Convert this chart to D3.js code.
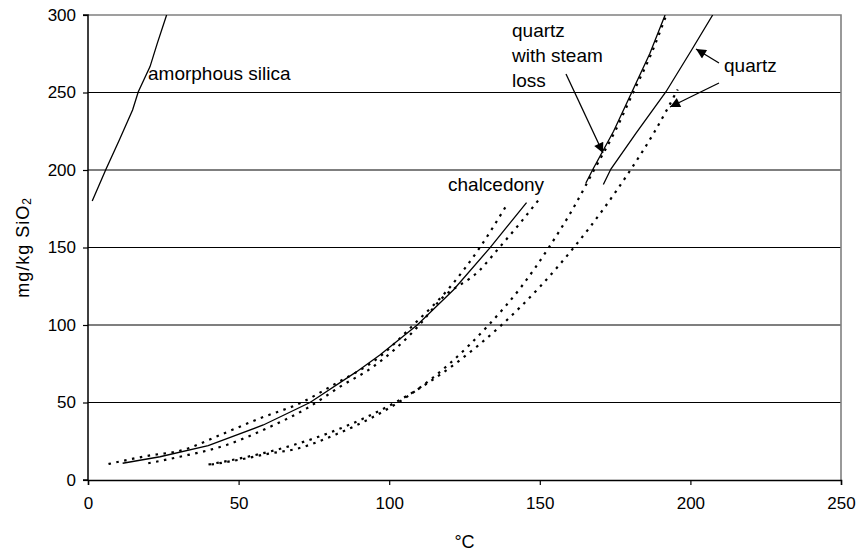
<!DOCTYPE html>
<html>
<head>
<meta charset="utf-8">
<script src="https://cdn.jsdelivr.net/npm/d3@7"></script>
<style>
  html, body { margin: 0; padding: 0; background: #fff; }
  svg text { font-family: "Liberation Sans", Arial, sans-serif; fill: #000; }
</style>
</head>
<body>
<svg id="chart" width="857" height="552"></svg>
<script>
// Silica solubility (mg/kg SiO2) against temperature (°C)
const xTicks = [0, 50, 100, 150, 200, 250];
const yTicks = [0, 50, 100, 150, 200, 250, 300];
const gridValues = [50, 100, 150, 200, 250];

// amorphous silica (solid)
const amorphousT = [1.4, 6.0, 10.4, 14.8, 16.7, 20.6, 23.0, 26.1];
const amorphousS = [180, 200.6, 219.4, 238.7, 250.5, 266.7, 281.7, 300];

// chalcedony (solid)
const chalcedonyT = [11.5, 23.9, 39.9, 58.2, 73.7, 89.2, 96.9, 109.3, 121.3, 133.5, 145.6];
const chalcedonyS = [10.8, 15, 22.2, 35.5, 50, 69.9, 80.6, 100, 122.6, 149.9, 179];

// chalcedony bounds (dotted), upper and lower
const chalcUpperT = [6.8, 19.5, 31.6, 43.8, 57.1, 70.9, 81.4, 96.9, 108, 120, 130.1, 139];
const chalcUpperS = [10.3, 15.5, 19.4, 29, 39.8, 50, 61.3, 79.6, 100, 124, 150, 177.4];
const chalcLowerT = [20, 30.5, 46, 59.3, 72.6, 83.7, 94.7, 110, 116.9, 130.1, 136.8, 143.4, 150];
const chalcLowerS = [10.8, 15, 22.6, 33.3, 46.2, 60.2, 73.1, 100, 116.1, 135.5, 150.5, 165.6, 181.7];

// quartz with steam loss: dotted over the full range, solid over the upper part
const steamDotT = [41, 50, 60, 69, 83, 94, 103, 120, 133, 144, 153, 161, 168, 175, 181, 187, 192];
const steamDotS = [10, 13, 17, 20, 30, 40, 50, 75, 100, 125, 150, 175, 200, 225, 250, 275, 300];
const steamSolidT = [165.3, 167.5, 174.5, 180.5, 186.5, 191.6];
const steamSolidS = [191.6, 200, 225, 250, 275, 300];

// quartz: dotted and solid
const quartzDotT = [40, 53, 63.6, 79.5, 91.8, 102, 121.9, 137.3, 150.2, 161.3, 171.2, 180.1, 188.2, 195.8];
const quartzDotS = [10, 15, 20, 30, 40, 50, 75, 100, 125, 150, 175, 200, 225, 252];
const quartzSolidT = [171.1, 173.6, 181.9, 191.9, 200.4, 207.4];
const quartzSolidS = [190.7, 200.6, 223.7, 250.5, 277.4, 300];

const svg = d3.select("#chart");
const mLeft = 88, mRight = 841, mTop = 15, mBottom = 480;

const x = d3.scaleLinear().domain([0, 250]).range([mLeft, mRight]);
const y = d3.scaleLinear().domain([0, 300]).range([mBottom, mTop]);

const defs = svg.append("defs");
defs.append("clipPath").attr("id", "plot")
  .append("rect").attr("x", mLeft).attr("y", mTop)
  .attr("width", mRight - mLeft).attr("height", mBottom - mTop);

// gridlines
svg.append("g").selectAll("line").data(gridValues).join("line")
  .attr("x1", mLeft).attr("x2", mRight)
  .attr("y1", d => y(d)).attr("y2", d => y(d))
  .attr("stroke", "#000").attr("stroke-width", 1.2);

// top and right border (grey)
svg.append("path")
  .attr("d", `M${mLeft},${y(300)}H${mRight}V${mBottom}`)
  .attr("fill", "none").attr("stroke", "#808080").attr("stroke-width", 1.6);

// axes
const xAxis = d3.axisBottom(x).tickValues(xTicks).tickSize(5).tickPadding(12);
const yAxis = d3.axisLeft(y).tickValues(yTicks).tickSize(5).tickPadding(7);

const gx = svg.append("g").attr("transform", `translate(0,${mBottom})`).call(xAxis);
const gy = svg.append("g").attr("transform", `translate(${mLeft},0)`).call(yAxis);
[gx, gy].forEach(g => {
  g.select(".domain").attr("stroke", "#000").attr("stroke-width", 1.5);
  g.selectAll(".tick line").attr("stroke", "#000").attr("stroke-width", 1.2);
  g.selectAll(".tick text")
    .attr("font-family", "'Liberation Sans', Arial, sans-serif")
    .attr("font-size", 17).attr("fill", "#000");
});
gy.select(".domain").attr("d", `M-5,${y(0)}H0V${y(300)}H-5`);

// axis titles
svg.append("text")
  .attr("x", (mLeft + mRight) / 2).attr("y", 548)
  .attr("text-anchor", "middle").attr("font-size", 18)
  .text("°C");

const yt = svg.append("text")
  .attr("transform", `translate(29,${(mTop + mBottom) / 2}) rotate(-90)`)
  .attr("text-anchor", "middle").attr("font-size", 18)
  .attr("letter-spacing", 1);
yt.append("tspan").text("mg/kg SiO");
yt.append("tspan").attr("font-size", 12).attr("dy", 2).text("2");

// series
const line = d3.line().x(d => x(d[0])).y(d => y(d[1]));
const smooth = d3.line().x(d => x(d[0])).y(d => y(d[1])).curve(d3.curveMonotoneX);
const zip = (a, b) => a.map((v, i) => [v, b[i]]);

const plot = svg.append("g").attr("clip-path", "url(#plot)");

const dotted = [
  zip(chalcUpperT, chalcUpperS),
  zip(chalcLowerT, chalcLowerS),
  zip(steamDotT, steamDotS),
  zip(quartzDotT, quartzDotS)
];
plot.selectAll("path.dot").data(dotted).join("path")
  .attr("class", "dot")
  .attr("d", smooth)
  .attr("fill", "none").attr("stroke", "#000")
  .attr("stroke-width", 2.2).attr("stroke-dasharray", "2.5,5.5");

plot.append("path").attr("d", line(zip(amorphousT, amorphousS)))
  .attr("fill", "none").attr("stroke", "#000").attr("stroke-width", 1.3);

const solids = [
  zip(chalcedonyT, chalcedonyS),
  zip(steamSolidT, steamSolidS),
  zip(quartzSolidT, quartzSolidS)
];
plot.selectAll("path.solid").data(solids).join("path")
  .attr("class", "solid")
  .attr("d", line)
  .attr("fill", "none").attr("stroke", "#000").attr("stroke-width", 1.3);

// annotations
const labelFont = 19;
svg.append("text").attr("x", 148).attr("y", 80).attr("font-size", labelFont).text("amorphous silica");
svg.append("text").attr("x", 448).attr("y", 191).attr("font-size", labelFont).text("chalcedony");
svg.append("text").attr("x", 724).attr("y", 72).attr("font-size", labelFont).text("quartz");
const qs = svg.append("text").attr("font-size", labelFont);
[["quartz", 37], ["with steam", 62], ["loss", 87]].forEach(([t, yy]) => {
  qs.append("tspan").attr("x", 512).attr("y", yy).text(t);
});

// arrowhead
defs.append("marker")
  .attr("id", "arrow").attr("viewBox", "0 0 10 10")
  .attr("refX", 10).attr("refY", 5)
  .attr("markerWidth", 13).attr("markerHeight", 10)
  .attr("markerUnits", "userSpaceOnUse")
  .attr("orient", "auto")
  .append("path").attr("d", "M0,0L10,5L0,10Z").attr("fill", "#000");

const arrows = [
  [566, 74, 603, 153],
  [719, 63, 696, 49],
  [719, 83, 670, 107]
];
svg.append("g").selectAll("line").data(arrows).join("line")
  .attr("x1", d => d[0]).attr("y1", d => d[1])
  .attr("x2", d => d[2]).attr("y2", d => d[3])
  .attr("stroke", "#000").attr("stroke-width", 1.3)
  .attr("marker-end", "url(#arrow)");
</script>
</body>
</html>
